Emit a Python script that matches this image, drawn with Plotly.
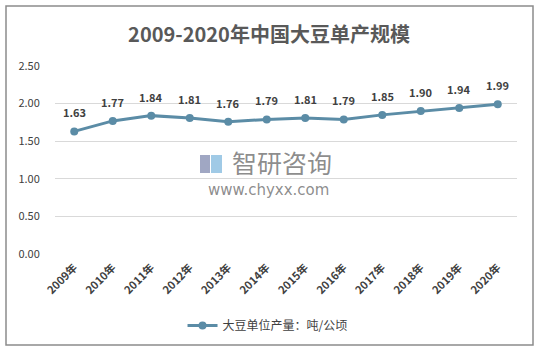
import plotly.graph_objects as go

years = ["2009年", "2010年", "2011年", "2012年", "2013年", "2014年",
         "2015年", "2016年", "2017年", "2018年", "2019年", "2020年"]
values = [1.63, 1.77, 1.84, 1.81, 1.76, 1.79, 1.81, 1.79, 1.85, 1.90, 1.94, 1.99]
series_name = "大豆单位产量：吨/公顷"
title = "2009-2020年中国大豆单产规模"
yticks = [0, 0.5, 1.0, 1.5, 2.0, 2.5]

color = "#5B8CA6"
font_main = "Noto Sans CJK SC, Liberation Sans, sans-serif"

fig = go.Figure()
fig.add_trace(go.Scatter(
    x=years, y=values, mode="lines+markers", name=series_name,
    line=dict(color=color, width=3),
    marker=dict(color=color, size=8),
    cliponaxis=False,
))

for yr, v in zip(years, values):
    fig.add_annotation(x=yr, y=v, text=f"<b>{v:.2f}</b>", showarrow=False,
                       yshift=19, font=dict(size=11, color="#404040", family=font_main))

# watermark
fig.add_annotation(x=(282-55)/462, y=(254-162)/188, xref="paper", yref="paper",
                   text="智研咨询", showarrow=False, height=26,
                   font=dict(size=25, color="rgba(120,120,120,0.85)", family=font_main))
fig.add_annotation(x=(268-55)/462, y=(254-190)/188, xref="paper", yref="paper",
                   text="www.chyxx.com", showarrow=False, height=16,
                   font=dict(size=15, color="rgba(120,120,120,0.85)", family="DejaVu Sans"))
fig.add_shape(type="rect", xref="paper", yref="paper",
              x0=(200-55)/462, x1=(210-55)/462, y0=(254-173)/188, y1=(254-155)/188,
              line=dict(width=0), fillcolor="rgba(120,130,170,0.7)")
fig.add_shape(type="rect", xref="paper", yref="paper",
              x0=(211-55)/462, x1=(222-55)/462, y0=(254-173)/188, y1=(254-155)/188,
              line=dict(width=0), fillcolor="rgba(120,180,220,0.7)")

fig.add_shape(type="rect", xref="paper", yref="paper",
              x0=-49/462, x1=(533-55)/462, y0=-(345-254)/188, y1=(254-6)/188,
              line=dict(color="#8C8C8C", width=1.5))

fig.update_layout(
    width=538, height=351,
    margin=dict(l=55, r=21, t=66, b=97, autoexpand=False),
    paper_bgcolor="white", plot_bgcolor="white",
    title=dict(text=f"<b>{title}</b>", x=0.5, xanchor="center", y=0.9, yanchor="middle",
               font=dict(size=20, color="#595959", family=font_main)),
    xaxis=dict(type="category", range=[-0.5, 11.5], tickangle=-45, showgrid=False,
               showline=False, ticks="outside", ticklen=2, tickcolor="rgba(0,0,0,0)",
               automargin=False,
               tickfont=dict(size=11, color="#404040", family=font_main),
               tickprefix="<b>", ticksuffix="</b>"),
    yaxis=dict(range=[0, 2.5], tickvals=yticks, tickformat=".2f",
               showgrid=True, gridcolor="#D9D9D9", gridwidth=1, zeroline=False,
               showline=False, ticks="outside", ticklen=12, tickcolor="rgba(0,0,0,0)",
               automargin=False,
               tickprefix="<b>", ticksuffix="</b>",
               tickfont=dict(size=11, color="#404040", family=font_main)),
    showlegend=True,
    legend=dict(orientation="h", x=0.46, xanchor="center", y=-0.38, yanchor="middle",
                font=dict(size=12, color="#404040", family=font_main)),
)

fig.write_html("out.html")
